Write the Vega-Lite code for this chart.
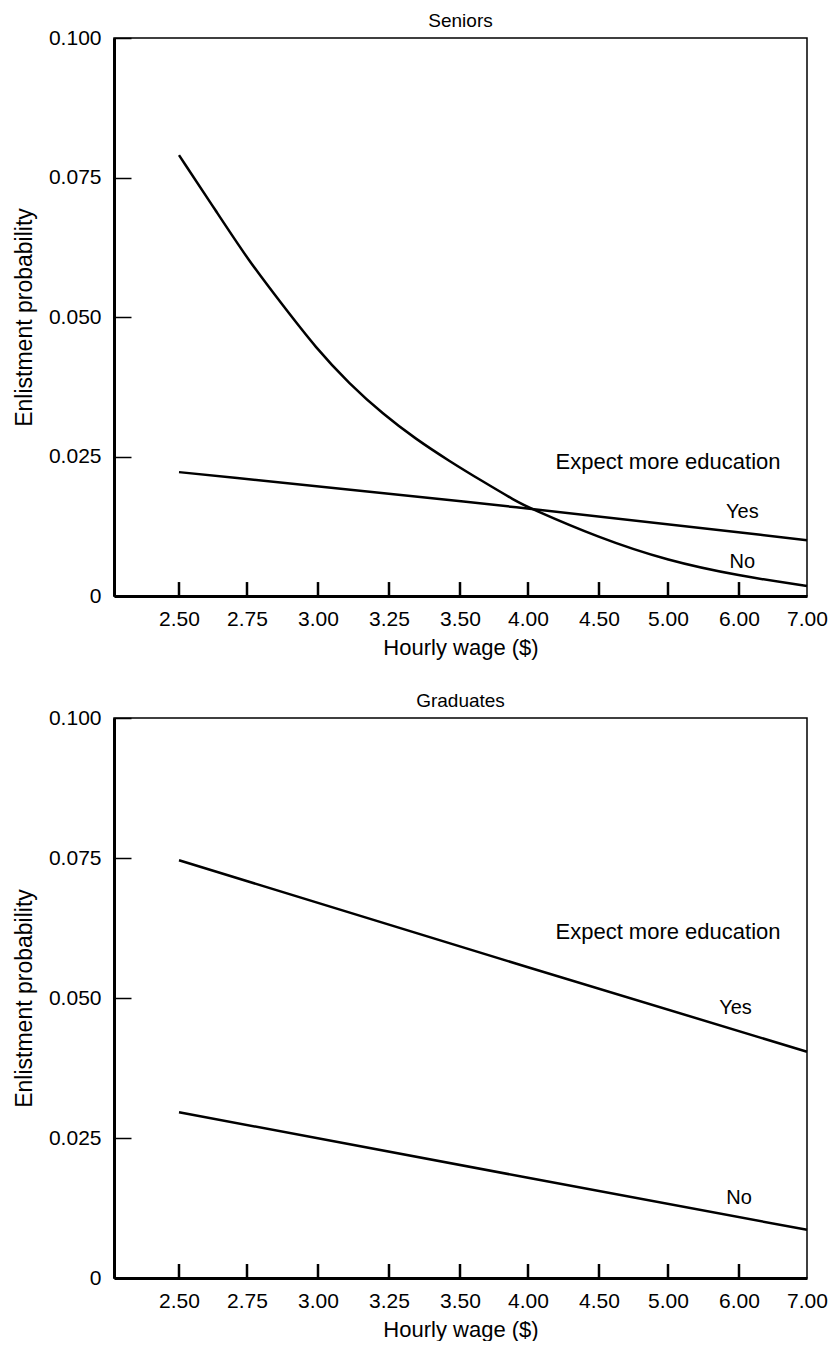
{
  "$schema": "https://vega.github.io/schema/vega-lite/v6.json",
  "background": "white",
  "padding": {"left": 12, "top": 11, "right": 5, "bottom": 0},
  "spacing": 32,
  "config": {
    "font": "Liberation Sans",
    "view": {"stroke": "black", "strokeWidth": 1.5},
    "title": {"fontSize": 19, "fontWeight": "normal", "color": "black", "offset": -4},
    "axis": {
      "gridColor": "black",
      "gridWidth": 1.5,
      "gridOpacity": 1,
      "ticks": false,
      "domainColor": "black",
      "domainWidth": 3,
      "labelColor": "black",
      "labelFontSize": 21,
      "titleFontWeight": "normal",
      "titleColor": "black",
      "labelFlush": false,
      "labelOverlap": false
    },
    "axisX": {"grid": false, "labelPadding": 12, "titlePadding": 8, "titleFontSize": 22},
    "axisY": {"grid": true, "gridDash": [17, 3000], "labelPadding": 13, "titlePadding": 12, "titleFontSize": 23}
  },
  "datasets": {
    "curves": [
      {"panel": "Seniors", "group": "No", "wage": 2.5, "prob": 0.079},
      {"panel": "Seniors", "group": "No", "wage": 2.636, "prob": 0.069},
      {"panel": "Seniors", "group": "No", "wage": 2.757, "prob": 0.06},
      {"panel": "Seniors", "group": "No", "wage": 2.873, "prob": 0.0523},
      {"panel": "Seniors", "group": "No", "wage": 2.993, "prob": 0.0444},
      {"panel": "Seniors", "group": "No", "wage": 3.111, "prob": 0.038},
      {"panel": "Seniors", "group": "No", "wage": 3.229, "prob": 0.0326},
      {"panel": "Seniors", "group": "No", "wage": 3.345, "prob": 0.0281},
      {"panel": "Seniors", "group": "No", "wage": 3.462, "prob": 0.0242},
      {"panel": "Seniors", "group": "No", "wage": 3.662, "prob": 0.0206},
      {"panel": "Seniors", "group": "No", "wage": 3.912, "prob": 0.017},
      {"panel": "Seniors", "group": "No", "wage": 4.0, "prob": 0.0159},
      {"panel": "Seniors", "group": "No", "wage": 4.5, "prob": 0.0104},
      {"panel": "Seniors", "group": "No", "wage": 5.0, "prob": 0.0063},
      {"panel": "Seniors", "group": "No", "wage": 6.0, "prob": 0.0036},
      {"panel": "Seniors", "group": "No", "wage": 7.0, "prob": 0.0018},
      {"panel": "Seniors", "group": "Yes", "wage": 2.5, "prob": 0.0222},
      {"panel": "Seniors", "group": "Yes", "wage": 4.0, "prob": 0.0158},
      {"panel": "Seniors", "group": "Yes", "wage": 7.0, "prob": 0.01},
      {"panel": "Graduates", "group": "Yes", "wage": 2.5, "prob": 0.0746},
      {"panel": "Graduates", "group": "Yes", "wage": 4.0, "prob": 0.0555},
      {"panel": "Graduates", "group": "Yes", "wage": 7.0, "prob": 0.0404},
      {"panel": "Graduates", "group": "No", "wage": 2.5, "prob": 0.0296},
      {"panel": "Graduates", "group": "No", "wage": 4.0, "prob": 0.0179},
      {"panel": "Graduates", "group": "No", "wage": 7.0, "prob": 0.0086}
    ],
    "labels": [
      {"panel": "Seniors", "label": "Expect more education", "wage": 5.0, "prob": 0.0228, "size": "big"},
      {"panel": "Seniors", "label": "Yes", "wage": 6.05, "prob": 0.014, "size": "small"},
      {"panel": "Seniors", "label": "No", "wage": 6.05, "prob": 0.005, "size": "small"},
      {"panel": "Graduates", "label": "Expect more education", "wage": 5.0, "prob": 0.0605, "size": "big"},
      {"panel": "Graduates", "label": "Yes", "wage": 5.95, "prob": 0.0471, "size": "small"},
      {"panel": "Graduates", "label": "No", "wage": 6.0, "prob": 0.0132, "size": "small"}
    ],
    "xticks": [
      {"wage": 2.5, "lo": 0, "hi": 0.0025}, {"wage": 2.75, "lo": 0, "hi": 0.0025}, {"wage": 3.0, "lo": 0, "hi": 0.0025},
      {"wage": 3.25, "lo": 0, "hi": 0.0025}, {"wage": 3.5, "lo": 0, "hi": 0.0025}, {"wage": 4.0, "lo": 0, "hi": 0.0025},
      {"wage": 4.5, "lo": 0, "hi": 0.0025}, {"wage": 5.0, "lo": 0, "hi": 0.0025}, {"wage": 6.0, "lo": 0, "hi": 0.0025}
    ]
  },
  "vconcat": [
    {
      "title": {"text": "Seniors"},
      "width": 693,
      "height": 558,
      "layer": [
        {
          "data": {"name": "curves"},
          "transform": [{"filter": "datum.panel == 'Seniors'"}],
          "mark": {"type": "line", "interpolate": "basis", "color": "black", "strokeWidth": 2.5},
          "encoding": {
            "x": {
              "field": "wage", "type": "quantitative",
              "scale": {"domain": [2.25, 2.5, 2.75, 3, 3.25, 3.5, 4, 4.5, 5, 6, 7], "range": [0, 65, 133, 204, 275, 346, 414, 485, 554, 625, 693], "nice": false, "zero": false},
              "axis": {"title": "Hourly wage ($)", "values": [2.5, 2.75, 3, 3.25, 3.5, 4, 4.5, 5, 6, 7], "format": ".2f"}
            },
            "y": {
              "field": "prob", "type": "quantitative",
              "scale": {"domain": [0, 0.1], "nice": false, "zero": true},
              "axis": {"title": "Enlistment probability", "values": [0, 0.025, 0.05, 0.075, 0.1], "labelExpr": "datum.value == 0 ? '0' : format(datum.value, '.3f')"}
            },
            "detail": {"field": "group"}
          }
        },
        {
          "data": {"name": "labels"},
          "transform": [{"filter": "datum.panel == 'Seniors'"}],
          "mark": {"type": "text", "baseline": "alphabetic", "align": "center", "color": "black"},
          "encoding": {
            "x": {"field": "wage", "type": "quantitative"},
            "y": {"field": "prob", "type": "quantitative"},
            "text": {"field": "label"},
            "size": {"field": "size", "type": "nominal", "scale": {"domain": ["big", "small"], "range": [22, 20]}, "legend": null}
          }
        },
        {
          "data": {"name": "xticks"},
          "mark": {"type": "rule", "color": "black", "strokeWidth": 2.5, "opacity": 1},
          "encoding": {
            "x": {"field": "wage", "type": "quantitative"},
            "y": {"field": "lo", "type": "quantitative"},
            "y2": {"field": "hi"}
          }
        }
      ]
    },
    {
      "title": {"text": "Graduates"},
      "width": 693,
      "height": 560,
      "layer": [
        {
          "data": {"name": "curves"},
          "transform": [{"filter": "datum.panel == 'Graduates'"}],
          "mark": {"type": "line", "interpolate": "linear", "color": "black", "strokeWidth": 2.5},
          "encoding": {
            "x": {
              "field": "wage", "type": "quantitative",
              "scale": {"domain": [2.25, 2.5, 2.75, 3, 3.25, 3.5, 4, 4.5, 5, 6, 7], "range": [0, 65, 133, 204, 275, 346, 414, 485, 554, 625, 693], "nice": false, "zero": false},
              "axis": {"title": "Hourly wage ($)", "values": [2.5, 2.75, 3, 3.25, 3.5, 4, 4.5, 5, 6, 7], "format": ".2f"}
            },
            "y": {
              "field": "prob", "type": "quantitative",
              "scale": {"domain": [0, 0.1], "nice": false, "zero": true},
              "axis": {"title": "Enlistment probability", "values": [0, 0.025, 0.05, 0.075, 0.1], "labelExpr": "datum.value == 0 ? '0' : format(datum.value, '.3f')"}
            },
            "detail": {"field": "group"}
          }
        },
        {
          "data": {"name": "labels"},
          "transform": [{"filter": "datum.panel == 'Graduates'"}],
          "mark": {"type": "text", "baseline": "alphabetic", "align": "center", "color": "black"},
          "encoding": {
            "x": {"field": "wage", "type": "quantitative"},
            "y": {"field": "prob", "type": "quantitative"},
            "text": {"field": "label"},
            "size": {"field": "size", "type": "nominal", "scale": {"domain": ["big", "small"], "range": [22, 20]}, "legend": null}
          }
        },
        {
          "data": {"name": "xticks"},
          "mark": {"type": "rule", "color": "black", "strokeWidth": 2.5, "opacity": 1},
          "encoding": {
            "x": {"field": "wage", "type": "quantitative"},
            "y": {"field": "lo", "type": "quantitative"},
            "y2": {"field": "hi"}
          }
        }
      ]
    }
  ]
}
